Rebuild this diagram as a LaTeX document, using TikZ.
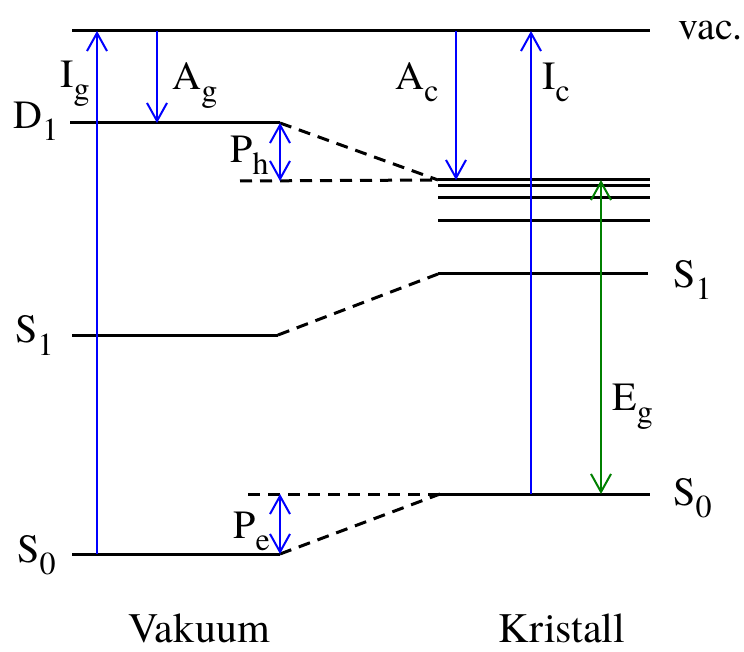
\documentclass[tikz,border=0pt]{standalone}
\usepackage{fontspec}
\setmainfont{texgyretermes}[Extension=.otf, UprightFont=*-regular]
\usepackage{tikz}
\usetikzlibrary{
  arrows.meta,%
  calc,%
  positioning
}
\tikzset{>={Straight Barb[length=9pt,width=10pt]}}
\tikzset{font=\fontsize{20}{22}\selectfont}
\tikzset{level/.style={line width=1.5pt},
  dashlevel/.style={line width=1.5pt, dash pattern=on 6pt off 4pt},
  trans/.style={blue, line width=1pt},
  gap/.style={green!50!black, line width=1pt},
  lbl/.style={anchor=base west, inner sep=0pt}}
% level label with lowered index
\newcommand{\lvl}[2]{#1\raisebox{-6pt}{\fontsize{16}{16}\selectfont #2}}

\begin{document}
\begin{tikzpicture}[x=0.5pt,y=-0.5pt]
  \useasboundingbox (0,0) rectangle (744,652);
  % levels, vacuum side
  \coordinate (vacL) at (72,31);   \coordinate (vacR) at (650,31);
  \coordinate (D1L) at (70,123);   \coordinate (D1R) at (280,123);
  \coordinate (S1vL) at (72,335);  \coordinate (S1vR) at (278,335);
  \coordinate (S0vL) at (72,554);  \coordinate (S0vR) at (280,554);
  % levels, crystal side
  \coordinate (bandL) at (438,180); \coordinate (bandR) at (650,180);
  \coordinate (S1cL) at (438,274); \coordinate (S1cR) at (648,274);
  \coordinate (S0cL) at (440,494); \coordinate (S0cR) at (650,494);
  \coordinate (phL) at (240,181);  \coordinate (peL) at (248,494);
  % arrow columns
  \coordinate (xIg) at (97,0);  \coordinate (xAg) at (157,0);
  \coordinate (xAc) at (456,0); \coordinate (xIc) at (531,0);
  \coordinate (xEg) at (601,0);

  \draw[level] (vacL) -- (vacR);
  \draw[level] (D1L) -- (D1R);
  \draw[level] (S1vL) -- (S1vR);
  \draw[level] (S0vL) -- (S0vR);
  \foreach \y in {180,186,198,221}
    \draw[level] (438,\y) -- (650,\y);
  \draw[level] (S1cL) -- (S1cR);
  \draw[level] (S0cL) -- (S0cR);

  \draw[dashlevel] (D1R) -- (bandL);
  \draw[dashlevel] (phL) -- (bandL);
  \draw[dashlevel] (S1vR) -- (S1cL);
  \draw[dashlevel] (S0vR) -- (S0cL);
  \draw[dashlevel] (peL) -- (S0cL);

  % transitions
  \draw[trans,->] (xIg |- S0vL) -- (xIg |- vacL);
  \draw[trans,->] (xAg |- vacL) -- (xAg |- D1L);
  \draw[trans,<->] (D1R |- phL) -- (D1R);
  \draw[trans,<->] (S0vR |- peL) -- (S0vR);
  \draw[trans,->] (xAc |- vacL) -- (xAc |- bandL);
  \draw[trans,->] (xIc |- S0cL) -- (xIc |- vacL);
  \draw[gap,<->] (xEg |- bandL) -- (xEg |- S0cL);

  % labels
  \node[lbl] (vac) at (678,40) {vac.};
  \node[lbl] (Ig) at (60,88) {\lvl{I}{g}};
  \node[lbl] (Ag) at (172,90) {\lvl{A}{g}};
  \node[lbl] (D1) at (13,129) {\lvl{D}{1}};
  \node[lbl] (Ph) at (230,163) {\lvl{P}{h}};
  \node[lbl] (Ac) at (395,90) {\lvl{A}{c}};
  \node[lbl] (Ic) at (542,90) {\lvl{I}{c}};
  \node[lbl] (S1c) at (673,287) {\lvl{S}{1}};
  \node[lbl] (Eg) at (612,410) {\lvl{E}{g}};
  \node[lbl] (S0c) at (673,505) {\lvl{S}{0}};
  \node[lbl] (S1v) at (15,343) {\lvl{S}{1}};
  \node[lbl] (S0v) at (17,562) {\lvl{S}{0}};
  \node[lbl] (Pe) at (233,538) {\lvl{P}{e}};
  \node[anchor=base, inner sep=0pt, font=\fontsize{21}{23}\selectfont] (vakuum) at (199,642) {Vakuum};
  \node[anchor=base, inner sep=0pt, font=\fontsize{21}{23}\selectfont] (kristall) at (562,642) {Kristall};
\end{tikzpicture}
\end{document}
